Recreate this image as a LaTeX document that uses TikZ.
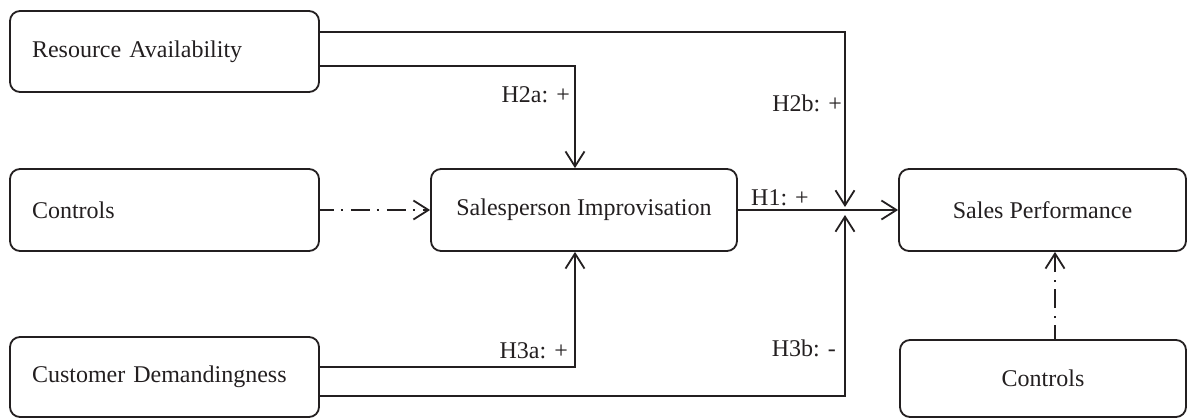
\documentclass[tikz,border=0pt]{standalone}
\usepackage{fontspec}
\setmainfont{Liberation Serif}
\usetikzlibrary{arrows.meta,calc}
\definecolor{ink}{RGB}{35,31,32}
\begin{document}
\begin{tikzpicture}[x=1pt,y=-1pt,
  font=\fontsize{24}{28}\selectfont,
  every node/.style={text=ink},
  box/.style={draw=ink, line width=1.8pt, rounded corners=10pt, inner sep=0pt},
  lbox/.style={box, minimum width=309pt, text width=265pt, align=left, inner xsep=22pt},
  lbl/.style={inner sep=0pt},
  conn/.style={draw=ink, line width=1.8pt, -{Straight Barb[length=15pt,width=19pt]}},
  dashdot/.style={dash pattern=on 19pt off 7pt on 2pt off 8pt, dash phase=5pt}
]
\useasboundingbox (0,0) rectangle (1187,418);

% left column
\node[lbox, minimum height=81pt] (RA) at (164.5,51.5) {Resource Availability};
\node[lbox, minimum height=82pt] (CL) at (164.5,210) {Controls};
\node[lbox, minimum height=80pt] (CD) at (164.5,377) {Customer Demandingness};

% middle and right
\node[box, minimum width=306pt, minimum height=82pt] (SI) at (584,210) {Salesperson Improvisation};
\node[box, minimum width=287pt, minimum height=82pt] (SP) at (1042.5,210) {Sales Performance};
\node[box, minimum width=286pt, minimum height=77pt] (CR) at (1043,378.5) {Controls};

\coordinate (J) at (845,211);

% connectors
\draw[conn] ([yshift=19.5pt]RA.east) -| ([yshift=4pt]J);
\draw[conn] ([yshift=-14.5pt]RA.east) -| ([xshift=-9pt]SI.north);
\draw[conn, dashdot] (CL.east) -- (SI.west);
\draw[conn] (SI.east) -- (SP.west);
\draw[conn] ([yshift=10pt]CD.east) -| ([xshift=-9pt]SI.south);
\draw[conn] ([yshift=-19pt]CD.east) -| ([yshift=-4pt]J);
\draw[conn, dashdot] ([xshift=12pt]CR.north) -- ([xshift=12pt]CR.north |- SP.south);

% labels
\node[lbl, anchor=base east] (h2a) at (570,102) {H2a: +};
\node[lbl, anchor=base east] (h2b) at (842,111) {H2b: +};
\node[lbl, anchor=base west] (h1) at (751,205) {H1: +};
\node[lbl, anchor=base east] (h3a) at (568,358) {H3a: +};
\node[lbl, anchor=base east] (h3b) at (836,356) {H3b: -};
\end{tikzpicture}
\end{document}
